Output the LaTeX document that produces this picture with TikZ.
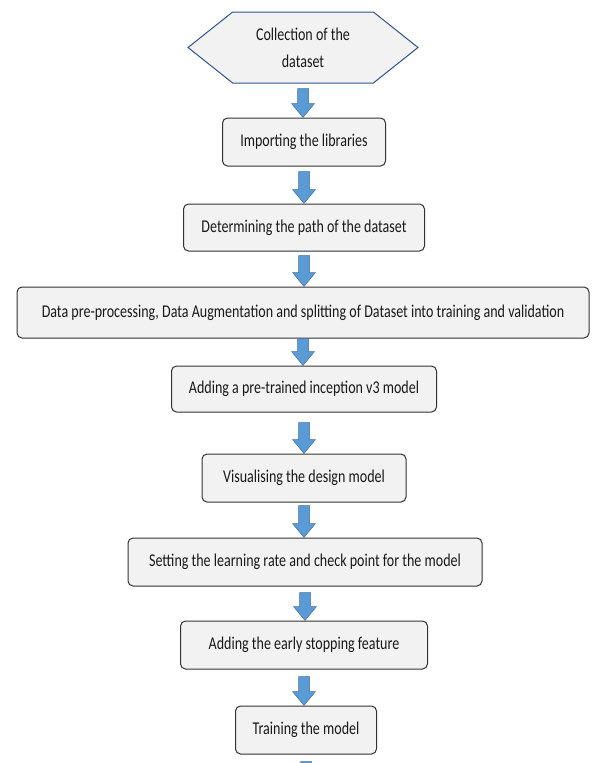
\documentclass[tikz,border=0pt]{standalone}
\usepackage{fontspec}
\setmainfont[FakeStretch=0.78]{Carlito}
\usepackage{xcolor}
\usepackage{tikz}
\usetikzlibrary{calc, shapes.symbols}

\definecolor{boxfill}{RGB}{242,242,242}
\definecolor{boxline}{RGB}{50,50,50}
\definecolor{hexline}{RGB}{47,82,143}
\definecolor{arrowfill}{RGB}{91,155,213}
\definecolor{arrowline}{RGB}{65,113,156}

\tikzset{
	stepbox/.style={draw=boxline, fill=boxfill, rounded corners=5pt, line width=1pt,
		inner sep=0pt, text=black!90, font=\fontsize{18}{27}\selectfont},
	startbox/.style={signal, signal to=west and east, signal pointer angle=77,
		draw=hexline, fill=boxfill, line width=1pt, inner sep=0pt, align=center,
		minimum width=230pt, minimum height=71pt, text=black!90, font=\fontsize{18}{27}\selectfont},
	flowarrow/.style={fill=arrowfill, draw=arrowline, line width=0.5pt}
}

\newcommand{\blockarrow}[3][4]{%
	\filldraw[flowarrow] let \p1=(#2.south), \p2=(#3) in
		(\x1-5.5pt,\y1-#1pt) -- (\x1+5.5pt,\y1-#1pt) -- (\x1+5.5pt,\y2+14pt)
		-- (\x1+11.5pt,\y2+14pt) -- (\x1,\y2) -- (\x1-11.5pt,\y2+14pt)
		-- (\x1-5.5pt,\y2+14pt) -- cycle;
}

\begin{document}
\begin{tikzpicture}[x=1pt, y=-1pt]
	\useasboundingbox (0,0) rectangle (601,763);
	\clip (0,0) rectangle (601,763);

	\begin{scope}
		\node[startbox] (collect) at (303,47.5) {Collection of the\\dataset};
		\node[stepbox, minimum width=163pt, minimum height=48pt] (libs) at (304,142) {Importing the libraries};
		\node[stepbox, minimum width=241pt, minimum height=47pt] (path) at (304,227.5) {Determining the path of the dataset};
		\node[stepbox, minimum width=572pt, minimum height=51pt] (prep) at (303,312.5) {Data pre-processing, Data Augmentation and splitting of Dataset into training and validation};
		\node[stepbox, minimum width=265pt, minimum height=46pt] (incep) at (304,389) {Adding a pre-trained inception v3 model};
		\node[stepbox, minimum width=204pt, minimum height=48pt] (design) at (304,478) {Visualising the design model};
		\node[stepbox, minimum width=354pt, minimum height=48pt] (rate) at (305,562) {Setting the learning rate and check point for the model};
		\node[stepbox, minimum width=247pt, minimum height=48pt] (stop) at (304,645) {Adding the early stopping feature};
		\node[stepbox, minimum width=141pt, minimum height=48pt] (train) at (306,730) {Training the model};
		\coordinate (next) at (306,800);
	\end{scope}

	\begin{scope}
		\blockarrow[5]{collect}{libs.north}
		\blockarrow[5]{libs}{path.north}
		\blockarrow[4]{path}{prep.north}
		\blockarrow[0]{prep}{incep.north}
		\blockarrow[10]{incep}{design.north}
		\blockarrow[3]{design}{rate.north}
		\blockarrow[6]{rate}{stop.north}
		\blockarrow[7]{stop}{train.north}
		\blockarrow[7]{train}{next}
	\end{scope}
\end{tikzpicture}
\end{document}
